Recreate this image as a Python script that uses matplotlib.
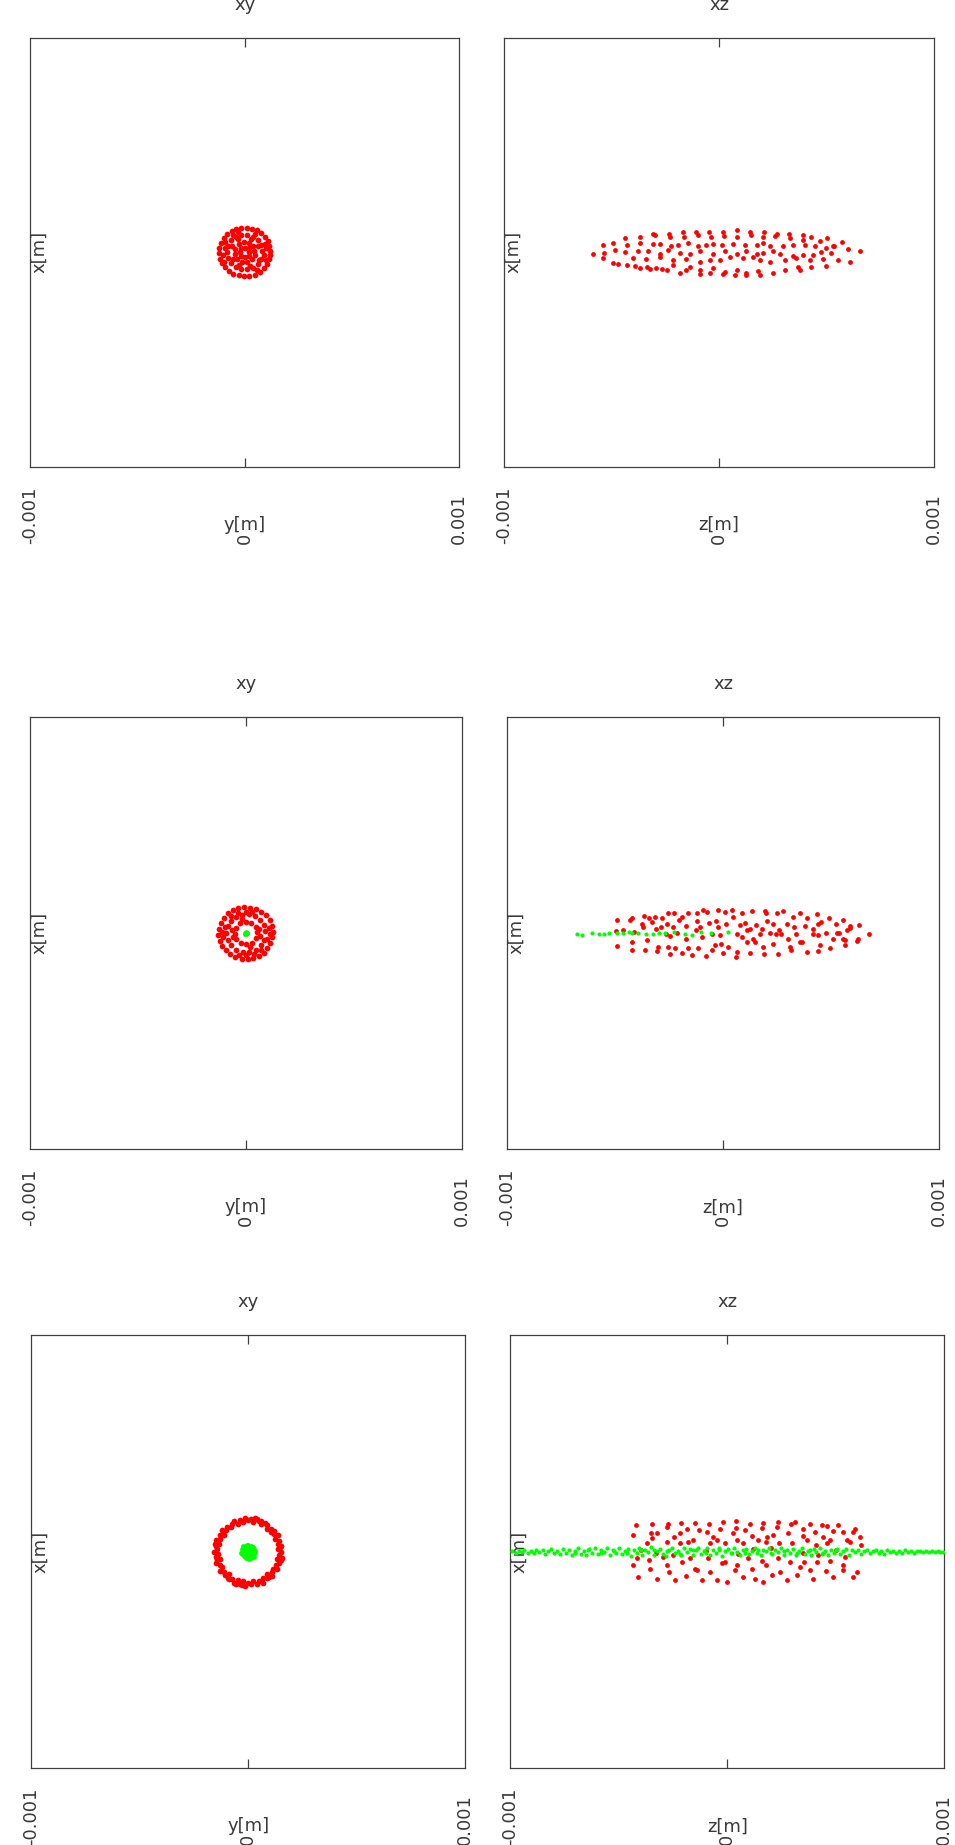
import matplotlib
matplotlib.use("Agg")
import matplotlib.pyplot as plt

plt.rcParams['font.family'] = ['DejaVu Sans']

# ---------------- data (micrometres) ----------------
UM = 1e-6
tick_vals = [-0.001, 0.0, 0.001]
tick_labels = ['-0.001', '0', '0.001']
titles = ['xy', 'xz']
xlabels = ['y[m]', 'z[m]']
ylabel = 'x[m]'

# row 1 : xy  (y, x)
r1_xy_red = [(118,5),(115,30),(108,52),(95,72),(78,90),(58,102),(35,110),(10,113),(-15,112),(-40,108),
             (-60,98),(-80,85),(-98,66),(-110,45),(-118,20),(-120,-5),(-116,-30),(-106,-52),(-92,-70),(-75,-88),
             (-52,-100),(-28,-108),(-3,-112),(22,-110),(48,-104),(70,-92),(90,-75),(105,-55),(114,-30),(120,-12),
             (80,8),(74,35),(60,58),(38,72),(12,80),(-15,78),(-42,70),(-62,55),(-76,30),(-82,3),(-78,-25),
             (-64,-50),(-42,-68),(-15,-78),(12,-80),(40,-72),(62,-55),(76,-30),(88,-15),(-90,18),(50,85),
             (-30,92),(95,40),(-95,-45),(45,5),(38,28),(20,42),(-5,46),(-28,38),(-44,15),(-46,-10),(-35,-32),
             (-12,-45),(12,-44),(35,-30),(47,-12),(18,18),(-18,18),(-18,-18),(18,-18),(0,20),(0,-20),(20,0),
             (-20,0),(100,20),(-100,-15),(60,30),(-55,-30),(28,62),(-30,60),(65,-35),(-60,28),(25,-62),
             (-25,-60),(98,-38),(-92,48),(58,-82),(-55,82)]

# row 1 : xz  (z, x)
r1_xz_red = [(-307,83),(-233,87),(-168,95),(-106,95),(-47,95),(19,95),(84,103),(143,95),(208,95),(267,87),
             (325,87),(391,78),(429,70),(504,65),(573,49),(-436,65),(-369,70),(-299,82),(-230,70),(-164,70),
             (-98,78),(-40,70),(23,75),(81,70),(146,78),(205,70),(259,75),(329,65),(391,58),(468,53),(533,29),
             (-540,32),(-493,45),(-431,32),(-369,45),(-307,37),(-276,37),(-222,29),(-191,32),(-144,45),(-98,29),
             (-59,32),(-28,37),(11,32),(65,37),(119,32),(174,32),(205,45),(236,29),(298,29),(344,32),(398,32),
             (445,29),(499,20),(530,29),(600,15),(654,4),(-586,-8),(-536,-5),(-485,12),(-439,-1),(-377,4),
             (-330,4),(-276,-8),(-237,12),(-183,-5),(-137,-8),(-90,4),(-28,-8),(26,4),(81,-8),(127,4),(174,-8),
             (205,-5),(251,4),(282,-8),(344,-18),(391,-11),(437,-15),(476,-1),(519,-5),(608,-44),(-540,-25),
             (-493,-48),(-470,-54),(-400,-25),(-341,-30),(-276,-21),(-214,-38),(-152,-30),(-90,-46),(-43,-34),
             (3,-38),(50,-21),(112,-25),(158,-21),(189,-34),(236,-46),(305,-38),(360,-25),(422,-34),(484,-30),
             (553,-38),(-431,-58),(-392,-63),(-338,-68),(-292,-74),(-245,-84),(-183,-96),(-137,-68),(-90,-101),
             (-43,-96),(19,-101),(81,-84),(127,-96),(181,-89),(251,-96),(305,-84),(367,-71),(429,-71),(499,-63),
             (-369,-74),(-323,-79),(-268,-79),(-214,-58),(-152,-84),(-90,-84),(-28,-74),(26,-91),(73,-104),
             (127,-104),(189,-104),(375,-84)]

# row 2 : xy  (y, x)
r2_xy_red = [(125,5),(120,35),(110,60),(95,82),(72,100),(48,112),(20,118),(-8,120),(-35,116),(-60,106),
             (-82,92),(-100,72),(-115,48),(-124,20),(-127,-8),(-122,-35),(-110,-60),(-94,-80),(-72,-98),
             (-48,-110),(-20,-118),(8,-120),(35,-115),(60,-105),(82,-90),(100,-70),(114,-45),(123,-20),
             (88,10),(82,38),(66,60),(42,78),(14,87),(-16,86),(-45,76),(-68,58),(-84,32),(-90,2),(-84,-30),
             (-68,-56),(-45,-76),(-15,-86),(15,-86),(45,-76),(68,-56),(84,-30),(52,5),(45,28),(25,46),(0,52),
             (-26,45),(-46,24),(-52,-3),(-44,-28),(-24,-46),(2,-52),(28,-44),(46,-24),(105,25),(-105,-20),
             (30,100),(-30,-100),(70,-80),(-70,80),(100,-25),(-98,30),(60,20),(-60,-20),(20,-65),(-20,65),
             (65,-15),(-65,15),(38,-95),(-38,95),(110,-5),(-112,5),(0,100),(0,-100)]
r2_xy_green = [(0,0),(4,3),(-4,2),(2,-4),(-3,-3),(5,-1),(-1,5)]

# row 2 : xz  (z, x)
r2_xz_red = [(-490,60),(-431,63),(-419,68),(-366,78),(-341,71),(-315,75),(-284,68),(-254,91),(-227,94),
             (-192,75),(-161,94),(-122,91),(-92,109),(-76,98),(-22,106),(9,98),(43,106),(86,94),(132,103),
             (194,103),(197,94),(248,91),(279,103),(325,75),(356,91),(390,68),(433,88),(456,52),(492,68),
             (523,44),(557,60),(590,32),(631,37),(677,-5),(-377,44),(-369,29),(-331,52),(-289,29),(-261,44),
             (-230,29),(-204,60),(-169,32),(-122,57),(-107,29),(-64,47),(-34,57),(-22,29),(13,44),(47,75),
             (78,38),(101,47),(125,17),(155,37),(179,17),(206,57),(233,44),(259,14),(294,41),(328,29),(379,32),
             (418,17),(441,44),(479,1),(526,1),(572,14),(587,24),(626,-25),(621,-36),(-496,10),(-462,14),
             (-412,6),(-311,21),(-264,-2),(-246,-14),(-215,1),(-172,-25),(-125,14),(-95,-17),(-53,-2),(-14,-10),
             (63,-5),(86,-17),(109,14),(137,-25),(171,-2),(217,1),(245,-2),(268,-5),(302,-25),(337,-2),
             (368,-40),(415,-2),(441,-10),(507,-25),(564,-33),(535,1),(-490,-61),(-423,-40),(-423,-79),
             (-362,-76),(-351,-30),(-300,-64),(-304,-82),(-254,-64),(-246,-98),(-223,-71),(-192,-91),
             (-161,-71),(-145,-102),(-115,-71),(-79,-107),(-53,-79),(-37,-56),(-7,-48),(1,-91),(24,-64),
             (63,-87),(60,-110),(109,-40),(125,-94),(148,-40),(189,-98),(186,-64),(233,-48),(256,-98),
             (310,-64),(317,-79),(356,-40),(387,-87),(441,-82),(449,-56),(495,-71),(557,-25),(564,-56)]
r2_xz_green = [(-674,-2),(-651,-10),(-605,2),(-574,-2),(-549,-2),(-526,2),(-492,1),(-465,1),(-437,6),
               (-423,2),(-395,2),(-358,-2),(-323,-2),(-295,1),(-267,2),(-227,6),(-175,-2),(-144,-10),
               (-104,6),(-57,1),(25,6)]

# row 3 : xy  (y, x)
r3_xy_red = [(150,0),(137,12),(153,27),(137,37),(141,51),(122,57),(137,79),(119,83),(107,90),(107,107),
             (87,104),(85,121),(78,134),(59,127),(51,141),(41,153),(24,136),(13,151),(0,145),(-14,155),
             (-24,138),(-39,145),(-46,127),(-66,140),(-73,126),(-79,113),(-98,116),(-100,100),(-121,102),
             (-111,78),(-130,75),(-130,60),(-148,54),(-133,36),(-150,26),(-144,13),(-158,0),(-139,-12),
             (-148,-26),(-131,-35),(-146,-53),(-131,-61),(-120,-69),(-128,-90),(-110,-92),(-106,-106),
             (-88,-105),(-89,-127),(-73,-126),(-67,-143),(-48,-132),(-39,-147),(-24,-134),(-14,-156),(0,-145),
             (13,-149),(24,-136),(40,-150),(49,-133),(67,-143),(70,-121),(86,-123),(87,-104),(110,-110),
             (111,-93),(113,-79),(135,-78),(129,-60),(143,-52),(132,-35),(156,-27),(143,-13),(146,20),
             (-142,-40),(60,140),(-55,-150),(120,95),(-118,85),(95,-118),(-95,-120),(150,-40),(-152,35),
             (30,155),(-30,-152)]
r3_xy_green = [(0,0),(10,0),(-10,0),(0,10),(0,-10),(20,0),(-20,0),(0,20),(0,-20),(14,14),(-14,14),
               (14,-14),(-14,-14),(30,0),(-30,0),(0,30),(0,-30),(21,21),(-21,21),(21,-21),(-21,-21),
               (28,12),(-28,12),(28,-12),(-28,-12),(12,28),(-12,28),(12,-28),(-12,-28),(33,5),(-33,-5),
               (5,-33),(-5,33),(25,-25),(-25,25),(8,8),(-8,-8),(8,-8),(-8,8)]

# row 3 : xz  (z, x)
r3_xz_red = [(-421,122),(-349,127),(-272,127),(-215,133),(-149,133),(-83,130),(-18,137),(40,142),(104,130),
             (166,133),(235,137),(292,127),(312,136),(381,127),(435,122),(458,118),(511,122),(588,107),
             (-433,76),(-353,84),(-326,84),(-277,114),(-246,68),(-218,84),(-187,107),(-132,99),(-92,91),
             (-65,68),(-34,107),(28,84),(40,111),(83,99),(112,71),(158,111),(181,68),(227,114),(212,76),
             (281,87),(347,107),(347,71),(404,91),(442,68),(488,96),(534,91),(580,91),(611,68),(-372,38),
             (-349,61),(-280,45),(-218,38),(-180,45),(-157,56),(-80,38),(-46,56),(-11,41),(43,53),(74,38),
             (143,56),(178,45),(240,38),(296,41),(365,56),(408,33),(461,41),(473,56),(550,56),(565,45),
             (614,30),(-433,-62),(-418,-31),(-359,-39),(-295,-24),(-280,-62),(-210,-47),(-172,-31),(-149,-78),
             (-88,-31),(-26,-54),(-11,-47),(43,-62),(97,-31),(158,-42),(178,-62),(235,-31),(289,-47),
             (353,-47),(412,-47),(473,-42),(534,-62),(542,-24),(-410,-119),(-356,-78),(-323,-128),(-267,-93),
             (-241,-131),(-191,-113),(-141,-85),(-118,-131),(-80,-93),(-49,-131),(-3,-139),(35,-85),(74,-119),
             (112,-78),(127,-128),(163,-139),(204,-108),(243,-93),(273,-131),(319,-108),(335,-70),(381,-85),
             (396,-128),(455,-88),(488,-119),(534,-85),(580,-116),(596,-93),(-400,10),(-250,-15),(-100,5),
             (50,-10),(200,15),(350,-5),(500,8),(-330,-5),(120,12),(420,-14)]
r3_xz_green = [(-990,2),(-975,-4),(-962,5),(-948,-2),(-935,6),(-920,-6),(-905,3),(-893,-8),(-880,8),
               (-866,-3),(-850,10),(-838,-10),(-825,4),(-812,12),(-798,-7),(-785,1),(-770,-12),(-757,14),
               (-744,-4),(-730,9),(-716,-15),(-703,5),(-690,16),(-676,-9),(-662,2),(-650,-17),(-636,12),
               (-622,-5),(-608,18),(-595,-12),(-582,7),(-568,-2),(-554,15),(-540,-16),(-527,9),(-513,-6),
               (-500,19),(-486,-11),(-472,3),(-459,13),(-445,-18),(-432,6),(-418,-4),(-405,17),(-391,-13),
               (-377,10),(-364,-1),(-350,20),(-337,-15),(-323,4),(-310,14),(-296,-9),(-282,-19),(-269,8),
               (-255,16),(-242,-6),(-228,2),(-214,-14),(-201,18),(-187,-3),(-174,11),(-160,-17),(-146,6),
               (-133,15),(-119,-10),(-106,1),(-92,19),(-78,-13),(-65,8),(-51,-4),(-38,16),(-24,-18),(-10,5),
               (3,12),(17,-8),(30,18),(44,-2),(58,-15),(71,9),(85,14),(98,-11),(112,3),(126,17),(139,-6),
               (153,-16),(166,10),(180,1),(194,15),(207,-12),(221,6),(234,-3),(248,18),(262,-14),(275,8),
               (289,-7),(302,13),(316,-17),(330,2),(343,16),(357,-9),(370,5),(384,-14),(398,11),(411,-2),
               (425,15),(438,-11),(452,4),(466,-16),(479,9),(493,-5),(506,13),(520,-10),(534,1),(547,12),
               (561,-13),(574,7),(588,-3),(602,10),(615,-11),(629,3),(642,8),(656,-8),(670,1),(683,9),
               (697,-6),(710,4),(724,-9),(738,7),(751,-2),(765,5),(778,-7),(792,3),(806,-4),(819,6),(833,-2),
               (846,4),(860,-5),(874,1),(887,3),(901,-3),(914,2),(928,-1),(942,3),(955,-2),(969,1),(982,-1),
               (995,0),
               (-700,-8),(-640,6),(-580,-8),(-520,4),(-460,-4),(-400,7),(-340,10),(-280,5),(-220,-10),
               (-160,9),(-100,-6),(-40,7),(20,-4),(80,-7),(140,8),(200,-6),(260,4),(320,-4),(380,6),
               (440,-7),(500,6)]

# ---------------- layout (pixels) ----------------
W, H = 955, 1845
panels = [  # (left, top, right, bottom, col, red, green)
    (30, 37.5, 459.3, 467, 0, r1_xy_red, None),
    (504.3, 37.5, 934, 467, 1, r1_xz_red, None),
    (30, 717, 461.7, 1149.3, 0, r2_xy_red, r2_xy_green),
    (507, 717, 939, 1149.3, 1, r2_xz_red, r2_xz_green),
    (31, 1335, 465.3, 1768.4, 0, r3_xy_red, r3_xy_green),
    (510.3, 1335, 944.3, 1768.4, 1, r3_xz_red, r3_xz_green),
]
red_size = [17, 12]
green_size = [12, 9]

TXT = '#3a3a3a'
FRAME = '#404040'
FS = 13

fig = plt.figure(figsize=(W / 100, H / 100), dpi=100)

for (l, t, r, b, col, red, green) in panels:
    ax = fig.add_axes([l / W, 1 - b / H, (r - l) / W, (b - t) / H])
    ax.set_xlim(-0.001, 0.001)
    ax.set_ylim(-0.001, 0.001)
    if red:
        ax.scatter([p[0] * UM for p in red], [p[1] * UM for p in red],
                   s=red_size[col], c='#ff0000', marker='o', linewidths=0, zorder=3)
    if green:
        ax.scatter([p[0] * UM for p in green], [p[1] * UM for p in green],
                   s=green_size[col], c='#00ff00', marker='o', linewidths=0, zorder=4)
    for sp in ax.spines.values():
        sp.set_color(FRAME)
        sp.set_linewidth(0.9)
    ax.set_xticks([0.0])
    ax.set_yticks([])
    ax.tick_params(axis='x', direction='in', length=6.5, width=0.9, color=FRAME,
                   top=True, bottom=True, labelbottom=False, labeltop=False)
    for v, lab in zip(tick_vals, tick_labels):
        ax.annotate(lab, xy=(v, 0), xycoords=('data', 'axes fraction'),
                    xytext=(0, -77), textcoords='offset pixels',
                    rotation=90, ha='center', va='bottom', fontsize=FS, color=TXT,
                    annotation_clip=False)
    ax.annotate(xlabels[col], xy=(0.5, 0), xycoords='axes fraction',
                xytext=(0, -58), textcoords='offset pixels',
                ha='center', va='center', fontsize=FS, color=TXT, annotation_clip=False)
    ax.annotate(titles[col], xy=(0.5, 1), xycoords='axes fraction',
                xytext=(0, 33), textcoords='offset pixels',
                ha='center', va='center', fontsize=FS, color=TXT, annotation_clip=False)
    ax.annotate(ylabel, xy=(0, 0.5), xycoords='axes fraction',
                xytext=(9, 0), textcoords='offset pixels', rotation=90,
                ha='center', va='center', fontsize=FS, color=TXT, annotation_clip=False)

fig.savefig('out.png', dpi=100)
